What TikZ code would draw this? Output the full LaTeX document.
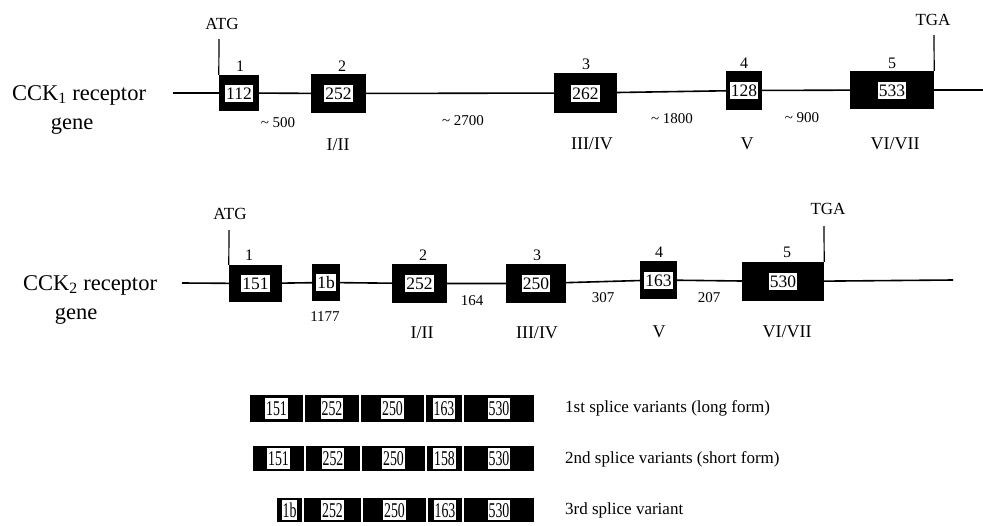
\documentclass[tikz,border=0pt]{standalone}
\usepackage{fontspec}
\setmainfont{Liberation Serif}
\newfontfamily\narrowfont[FakeStretch=0.66]{Liberation Serif}
\usetikzlibrary{backgrounds}
\newcommand\fs[1]{\fontsize{#1}{#1}\selectfont}
\tikzset{
  gline/.style={line width=1.6pt, black},
  sline/.style={line width=1.2pt, black},
  exon/.style={fill=black, inner sep=0pt},
  num/.style={fill=white, inner xsep=1pt, inner ysep=2.5pt, text height=12pt, text depth=0pt, font=\fs{17.5}},
  exnum/.style={font=\fs{16}},
  site/.style={font=\fs{17}},
  intron/.style={font=\fs{15}},
  tm/.style={font=\fs{18}},
  gname/.style={font=\fs{22.5}, anchor=base, inner sep=0pt},
  seg/.style={fill=black, draw=white, line width=1.2pt, inner sep=0pt},
  snum/.style={fill=white, inner xsep=0.8pt, inner ysep=3pt, text height=14.5pt, text depth=0pt, font=\narrowfont\fs{21}},
  vlabel/.style={anchor=west, font=\fs{17}, inner sep=0pt}
}
\begin{document}
\begin{tikzpicture}[x=1pt,y=-1pt]
\useasboundingbox (0,0) rectangle (983,525);

% ---------- CCK1 receptor gene ----------
\node[gname] (g1a) at (79,100) {CCK\textsubscript{1} receptor};
\node[gname] (g1b) at (72,129) {gene};
\coordinate (s1) at (173,93);
\coordinate (t1) at (983,90);
\node[exon, minimum width=40pt, minimum height=36pt] (A1) at (239,93) {};
\node[exon, minimum width=55pt, minimum height=39pt] (A2) at (338.5,93.5) {};
\node[exon, minimum width=63pt, minimum height=40pt] (A3) at (585.5,93) {};
\node[exon, minimum width=36pt, minimum height=39pt] (A4) at (744,90.5) {};
\node[exon, minimum width=84pt, minimum height=38pt] (A5) at (892,90) {};
\node[num] (A1n) at (A1) {112};
\node[num] (A2n) at (A2) {252};
\node[num] (A3n) at (A3) {262};
\node[num] (A4n) at (A4) {128};
\node[num] (A5n) at (A5) {533};
\node[exnum] (A1e) at (240,66) {1};
\node[exnum] (A2e) at (342,66) {2};
\node[exnum] (A3e) at (586,64) {3};
\node[exnum] (A4e) at (744,63) {4};
\node[exnum] (A5e) at (892,63) {5};
\node[site] (atg1) at (222,24) {ATG};
\node[site] (tga1) at (933,20) {TGA};
\coordinate (atg1l) at (219,39);
\coordinate (tga1l) at (934,35);
\draw[sline] (atg1l) -- (A1.north west);
\draw[sline] (tga1l) -- (A5.north east);
\node[intron] (i11) at (278,123) {\textasciitilde{} 500};
\node[intron] (i12) at (463,121) {\textasciitilde{} 2700};
\node[intron] (i13) at (672,119) {\textasciitilde{} 1800};
\node[intron] (i14) at (802,118) {\textasciitilde{} 900};
\node[tm] (tm11) at (338,145) {I/II};
\node[tm] (tm12) at (592,144) {III/IV};
\node[tm] (tm13) at (747,144) {V};
\node[tm] (tm14) at (895,144) {VI/VII};
\begin{scope}[on background layer]
  \draw[gline] (s1) -- (A1) -- (A2) -- (A3) -- (A4) -- (A5) -- (t1);
\end{scope}

% ---------- CCK2 receptor gene ----------
\node[gname] (g2a) at (90,290) {CCK\textsubscript{2} receptor};
\node[gname] (g2b) at (76,319) {gene};
\coordinate (s2) at (182,283);
\coordinate (t2) at (953,280);
\node[exon, minimum width=53pt, minimum height=37pt] (B1) at (255.5,283.5) {};
\node[exon, minimum width=28pt, minimum height=37pt] (B1b) at (326,282.5) {};
\node[exon, minimum width=55pt, minimum height=39pt] (B2) at (419.5,283.5) {};
\node[exon, minimum width=60pt, minimum height=39pt] (B3) at (536,283.5) {};
\node[exon, minimum width=37pt, minimum height=38pt] (B4) at (658.5,280) {};
\node[exon, minimum width=82pt, minimum height=39pt] (B5) at (783,281.5) {};
\node[num] (B1n) at (B1) {151};
\node[num] (B1bn) at (B1b) {1b};
\node[num] (B2n) at (B2) {252};
\node[num] (B3n) at (B3) {250};
\node[num] (B4n) at (B4) {163};
\node[num] (B5n) at (B5) {530};
\node[exnum] (B1e) at (249,255) {1};
\node[exnum] (B2e) at (423,255) {2};
\node[exnum] (B3e) at (537,255) {3};
\node[exnum] (B4e) at (659,252) {4};
\node[exnum] (B5e) at (787,252) {5};
\node[site] (atg2) at (230,214) {ATG};
\node[site] (tga2) at (828,209) {TGA};
\coordinate (atg2l) at (229,230);
\coordinate (tga2l) at (824,226);
\draw[sline] (atg2l) -- (B1.north west);
\draw[sline] (tga2l) -- (B5.north east);
\node[intron] (i21) at (325,317) {1177};
\node[intron] (i22) at (472,301) {164};
\node[intron] (i23) at (603,298) {307};
\node[intron] (i24) at (709,298) {207};
\node[tm] (tm21) at (422,333) {I/II};
\node[tm] (tm22) at (537,333) {III/IV};
\node[tm] (tm23) at (659,332) {V};
\node[tm] (tm24) at (787,332) {VI/VII};
\begin{scope}[on background layer]
  \draw[gline] (s2) -- (B1) -- (B1b) -- (B2) -- (B3) -- (B4) -- (B5) -- (t2);
\end{scope}

% ---------- splice variants ----------
\foreach \a/\b/\t [count=\i] in {249/304/151, 304/360/252, 360/425/250, 425/463/163, 463/535/530}{
  \node[seg, minimum width={(\b-\a)*1pt}, minimum height=29pt] (r1s\i) at ({(\a+\b)/2},408.5) {};
  \node[snum] (r1n\i) at (r1s\i) {\t};
}
\foreach \a/\b/\t [count=\i] in {252/305/151, 305/361/252, 361/426/250, 426/463/158, 463/535/530}{
  \node[seg, minimum width={(\b-\a)*1pt}, minimum height=27pt] (r2s\i) at ({(\a+\b)/2},458.5) {};
  \node[snum] (r2n\i) at (r2s\i) {\t};
}
\foreach \a/\b/\t [count=\i] in {276/303/1b, 303/362/252, 362/427/250, 427/463/163, 463/535/530}{
  \node[seg, minimum width={(\b-\a)*1pt}, minimum height=26pt] (r3s\i) at ({(\a+\b)/2},510) {};
  \node[snum] (r3n\i) at (r3s\i) {\t};
}
\node[vlabel] (v1) at (565,408) {1st splice variants (long form)};
\node[vlabel] (v2) at (565,459) {2nd splice variants (short form)};
\node[vlabel] (v3) at (565,510) {3rd splice variant};
\end{tikzpicture}
\end{document}
